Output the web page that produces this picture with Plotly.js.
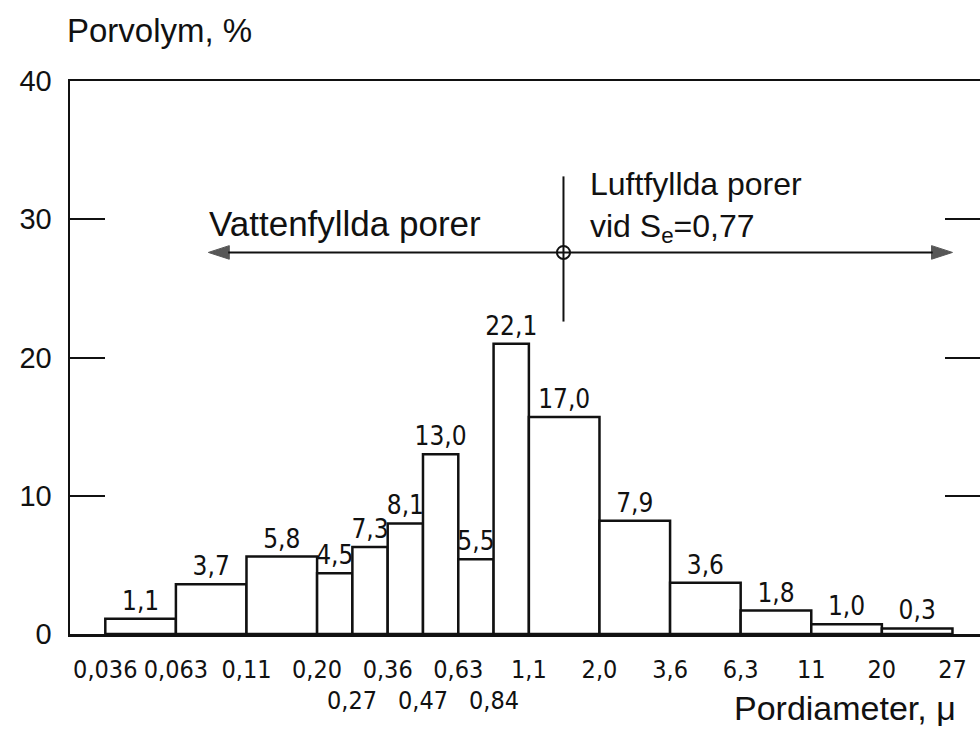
<!DOCTYPE html>
<html>
<head>
<meta charset="utf-8">
<script src="https://cdn.plot.ly/plotly-3.0.1.min.js"></script>
<style>html,body{margin:0;padding:0;background:#fff;}#chart{width:980px;height:735px;}</style>
</head>
<body>
<div id="chart"></div>
<script>
// Class boundaries (pore diameter, µ) and their positions on the chart's evenly spaced class grid
const edgeLabels = ['0,036','0,063','0,11','0,20','0,27','0,36','0,47','0,63','0,84','1,1','2,0','3,6','6,3','11','20','27'];
const edgeGrid   = [0, 1, 2, 3, 3.5, 4, 4.5, 5, 5.5, 6, 7, 8, 9, 10, 11, 12];
const staggered  = ['0,27','0,47','0,84'];   // printed on a second, lower row

// Pore volume per class, % (printed labels and drawn bar heights)
const volumeLabels = ['1,1','3,7','5,8','4,5','7,3','8,1','13,0','5,5','22,1','17,0','7,9','3,6','1,8','1,0','0,3'];
const volumeDrawn  = [1.1, 3.6, 5.6, 4.4, 6.3, 8.0, 13.0, 5.4, 21.0, 15.7, 8.2, 3.7, 1.7, 0.7, 0.4];

// Saturation marker S_e = 0,77 (grid position, % level) and arrow ends
const satX = 6.49;
const satY = 27.6;
const arrowLeftX = 1.46;
const arrowRightX = 12.0;

const WORD = '"Liberation Sans", Arial, sans-serif';
const DIGIT = '"Liberation Sans Narrow", "DejaVu Sans Condensed", "Liberation Sans", sans-serif';

const centers = [], widths = [];
for (let i = 0; i < volumeDrawn.length; i++) {
  centers.push((edgeGrid[i] + edgeGrid[i + 1]) / 2);
  widths.push(edgeGrid[i + 1] - edgeGrid[i]);
}
const row1Vals = [], row1Text = [], row2Ann = [];
edgeLabels.forEach((l, i) => {
  if (staggered.includes(l)) {
    row2Ann.push({xref: 'x', yref: 'paper', x: edgeGrid[i], y: -0.12, xanchor: 'center', yanchor: 'middle',
      text: l, showarrow: false, font: {family: DIGIT, size: 25, color: '#111'}});
  } else { row1Vals.push(edgeGrid[i]); row1Text.push(l); }
});

const bars = {
  type: 'bar', x: centers, y: volumeDrawn, width: widths,
  text: volumeLabels, textposition: 'outside', textangle: 0,
  constraintext: 'none', cliponaxis: false,
  textfont: {family: DIGIT, size: 26, color: '#111'},
  marker: {color: '#ffffff', line: {color: '#111', width: 2.5}},
  hoverinfo: 'skip', showlegend: false
};
function arrowTrace(xEnd) {
  return {
    type: 'scatter', mode: 'lines+markers', x: [satX, xEnd], y: [satY, satY],
    line: {color: '#111', width: 2},
    marker: {symbol: 'arrow', angleref: 'previous', size: [0, 22], color: '#111',
             line: {width: 1, color: '#111'}},
    hoverinfo: 'skip', showlegend: false
  };
}
const marker = {
  type: 'scatter', mode: 'markers', x: [satX], y: [satY],
  marker: {symbol: 'circle-open', size: 13, color: '#111', line: {width: 2, color: '#111'}},
  hoverinfo: 'skip', showlegend: false
};

const layout = {
  width: 980, height: 735,
  margin: {l: 70, r: 0, t: 81, b: 101},
  paper_bgcolor: '#fff', plot_bgcolor: '#fff',
  bargap: 0,
  xaxis: {
    range: [-0.5, 12.39], showgrid: false, zeroline: false,
    showline: true, mirror: true, linecolor: '#111', linewidth: 2.5,
    ticks: '', tickmode: 'array', tickvals: row1Vals, ticktext: row1Text,
    tickangle: 0,
    tickfont: {family: DIGIT, size: 25, color: '#111'},
    ticklabelstandoff: 11
  },
  yaxis: {
    range: [0, 40], showgrid: false, zeroline: false,
    showline: true, mirror: 'ticks', linecolor: '#111', linewidth: 2.5,
    ticks: 'inside', ticklen: 35, tickwidth: 2, tickcolor: '#111',
    tickmode: 'array', tickvals: [0, 10, 20, 30, 40],
    tickfont: {family: WORD, size: 29, color: '#111'},
    ticklabelstandoff: 10
  },
  shapes: [
    {type: 'line', xref: 'x', yref: 'y', x0: satX, x1: satX, y0: 22.6, y1: 33.1,
     line: {color: '#111', width: 2}}
  ],
  annotations: row2Ann.concat([
    {xref: 'paper', yref: 'paper', x: -0.005, y: 1.092, xanchor: 'left', yanchor: 'middle',
     text: 'Porvolym, %', showarrow: false, font: {family: WORD, size: 33, color: '#111'}},
    {xref: 'paper', yref: 'paper', x: 0.852, y: -0.134, xanchor: 'center', yanchor: 'middle',
     text: 'Pordiameter, μ', showarrow: false, font: {family: WORD, size: 34, color: '#111'}},
    {xref: 'x', yref: 'y', x: 3.4, y: 29.7, xanchor: 'center', yanchor: 'middle',
     text: 'Vattenfyllda porer', showarrow: false, font: {family: WORD, size: 35, color: '#111'}},
    {xref: 'x', yref: 'y', x: 6.84, y: 30.9, xanchor: 'left', yanchor: 'middle', align: 'left',
     text: 'Luftfyllda porer<br>vid S<sub>e</sub>=0,77', showarrow: false,
     font: {family: WORD, size: 32, color: '#111'}}
  ])
};

Plotly.newPlot('chart', [bars, arrowTrace(arrowLeftX), arrowTrace(arrowRightX), marker], layout,
  {staticPlot: true, displayModeBar: false});
</script>
</body>
</html>
